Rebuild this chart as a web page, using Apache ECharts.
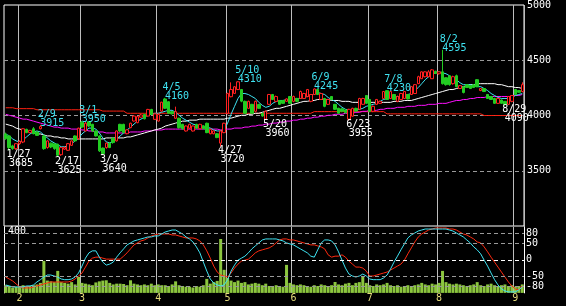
<!DOCTYPE html>
<html><head><meta charset="utf-8">
<script src="https://cdn.jsdelivr.net/npm/echarts@6/dist/echarts.min.js"></script>
<style>html,body{margin:0;padding:0;background:#000;}#c{width:566px;height:306px;}</style>
</head><body><div id="c"></div>
<script>
const dates = ['1/26','1/27','1/28','1/31',
'2/1','2/2','2/3','2/4','2/7','2/8','2/9','2/10','2/14','2/15','2/16','2/17','2/18','2/21','2/22','2/24','2/25','2/28',
'3/1','3/2','3/3','3/4','3/7','3/8','3/9','3/10','3/11','3/14','3/15','3/16','3/17','3/18','3/22','3/23','3/24','3/25','3/28','3/29','3/30','3/31',
'4/1','4/4','4/5','4/6','4/7','4/8','4/11','4/12','4/13','4/14','4/15','4/18','4/19','4/20','4/21','4/22','4/25','4/26','4/27','4/28',
'5/2','5/6','5/9','5/10','5/11','5/12','5/13','5/16','5/17','5/18','5/19','5/20','5/23','5/24','5/25','5/26','5/27','5/30','5/31',
'6/1','6/2','6/3','6/6','6/7','6/8','6/9','6/10','6/13','6/14','6/15','6/16','6/17','6/20','6/21','6/22','6/23','6/24','6/27','6/28','6/29','6/30',
'7/1','7/4','7/5','7/6','7/7','7/8','7/11','7/12','7/13','7/14','7/15','7/19','7/20','7/21','7/22','7/25','7/26','7/27','7/28','7/29',
'8/1','8/2','8/3','8/4','8/5','8/8','8/9','8/10','8/12','8/15','8/16','8/17','8/18','8/19','8/22','8/23','8/24','8/25','8/26','8/29','8/30','8/31',
'9/1','9/2','9/5'];

const openP = [3833,3815,3725,3700,3745,3760,3875,3845,3880,3850,
3880,3815,3710,3750,3745,3740,3645,3695,3685,3730,
3815,3790,3940,3860,3945,3920,3860,3815,3705,3710,
3750,3795,3770,3920,3920,3835,3890,3950,3935,3985,
4010,3995,4055,3965,3950,4040,4150,4125,4035,3975,
3975,3920,3860,3885,3860,3920,3880,3905,3930,3835,
3835,3835,3750,3845,4020,4170,4200,4235,4235,4128,
4065,4101,4038,4100,4020,3967,4101,4190,4128,4136,
4136,4128,4172,4128,4154,4154,4154,4172,4128,4190,
4235,4145,4154,4101,4172,4101,4065,4060,4050,3967,
3994,4065,4056,4101,4181,4145,4038,4101,4110,4154,
4225,4154,4190,4128,4145,4154,4190,4190,4199,4288,
4333,4351,4351,4333,4400,4378,4395,4342,4360,4288,
4360,4244,4261,4279,4270,4279,4324,4226,4244,4190,
4172,4154,4110,4140,4128,4101,4128,4235,4226,4217];
const closeP = [3790,3710,3700,3745,3765,3880,3845,3865,3835,3820,
3900,3700,3770,3715,3700,3640,3710,3710,3745,3770,
3770,3885,3895,3930,3905,3860,3815,3680,3655,3750,
3710,3755,3860,3860,3845,3870,3930,3995,3990,4005,
3970,4055,4010,4015,4010,4120,4065,4020,4015,4035,
3890,3880,3905,3920,3905,3885,3920,3880,3845,3875,
3860,3800,3860,3930,4200,4235,4260,4305,4130,4020,
4128,4020,4128,4065,3995,4038,4190,4145,4172,4101,
4110,4150,4110,4172,4128,4217,4199,4235,4190,4240,
4190,4199,4083,4145,4145,4056,4020,4038,4025,4056,
4065,4040,4154,4154,4110,4038,4083,4145,4128,4217,
4145,4217,4145,4172,4199,4217,4150,4261,4279,4351,
4395,4395,4395,4413,4380,4395,4288,4279,4279,4351,
4261,4270,4208,4253,4244,4253,4261,4244,4217,4154,
4145,4110,4154,4110,4101,4172,4181,4190,4210,4279];
const lowP = [3780,3685,3690,3690,3735,3750,3840,3840,3830,3815,
3875,3690,3700,3705,3690,3625,3635,3690,3680,3725,
3765,3780,3885,3855,3895,3850,3810,3670,3640,3700,
3705,3745,3765,3850,3840,3830,3885,3945,3930,3980,
3965,3990,4005,3960,3945,4030,4060,4015,4010,3970,
3880,3870,3855,3880,3855,3880,3875,3875,3840,3830,
3830,3795,3720,3840,4010,4165,4195,4230,4120,4015,
4060,4015,4030,4060,3990,3960,4095,4140,4120,4095,
4105,4125,4105,4120,4120,4150,4150,4165,4120,4185,
4185,4140,4075,4095,4140,4050,4015,4030,4020,3955,
3990,4035,4050,4095,4105,4030,4030,4095,4105,4150,
4140,4150,4140,4120,4140,4150,4145,4185,4195,4285,
4330,4345,4345,4330,4375,4370,4280,4270,4270,4280,
4255,4240,4200,4250,4240,4250,4255,4220,4212,4150,
4140,4105,4105,4105,4090,4095,4120,4185,4205,4210];
const highP = [3845,3825,3735,3750,3775,3885,3880,3870,3895,3860,
3915,3825,3775,3755,3750,3745,3715,3720,3750,3775,
3820,3890,3950,3945,3948,3925,3865,3820,3710,3755,
3755,3800,3865,3925,3925,3875,3935,4000,3995,4015,
4015,4060,4060,4020,4020,4125,4160,4130,4040,4080,
3980,3925,3910,3925,3910,3925,3925,3910,3935,3880,
3865,3840,3865,3935,4205,4300,4265,4310,4240,4135,
4135,4105,4135,4105,4025,4045,4195,4195,4180,4140,
4140,4155,4175,4180,4160,4225,4205,4240,4195,4245,
4240,4205,4160,4150,4175,4105,4070,4065,4055,4060,
4070,4070,4160,4160,4185,4150,4090,4150,4135,4222,
4230,4220,4195,4180,4205,4220,4195,4265,4285,4360,
4400,4400,4410,4420,4405,4400,4595,4345,4365,4360,
4370,4275,4265,4285,4275,4285,4330,4248,4248,4195,
4175,4160,4160,4145,4130,4175,4185,4240,4230,4300];

const ma5 = [3833,3815,3788,3770,3761,3779,3806,3833,3851,3860,
3851,3824,3797,3770,3752,3735,3717,3717,3726,3744,
3770,3797,3833,3860,3886,3886,3877,3842,3797,3761,
3752,3761,3788,3815,3842,3869,3895,3922,3949,3967,
3985,4002,4011,4020,4020,4029,4038,4047,4047,4029,
4002,3976,3958,3940,3922,3913,3904,3904,3895,3886,
3869,3860,3860,3869,3931,4011,4083,4154,4199,4199,
4190,4172,4154,4119,4092,4074,4083,4110,4128,4136,
4136,4145,4145,4145,4154,4154,4163,4172,4181,4199,
4208,4199,4190,4163,4145,4128,4101,4074,4056,4047,
4038,4047,4056,4065,4083,4092,4101,4110,4128,4145,
4154,4163,4172,4172,4172,4181,4190,4199,4226,4253,
4288,4324,4351,4369,4386,4395,4386,4378,4360,4333,
4324,4297,4279,4279,4279,4270,4261,4261,4244,4226,
4199,4181,4163,4154,4154,4154,4163,4181,4190,4199];
const ma25 = [3922,3913,3904,3886,3877,3869,3860,3851,3842,3833,
3833,3824,3815,3815,3806,3806,3797,3797,3788,3788,
3788,3788,3788,3788,3788,3788,3788,3788,3788,3797,
3797,3797,3797,3797,3797,3806,3806,3815,3824,3833,
3842,3851,3860,3869,3877,3886,3904,3913,3922,3931,
3940,3949,3949,3958,3958,3958,3967,3967,3967,3967,
3967,3967,3967,3967,3976,3976,3985,3994,4002,4002,
4011,4011,4020,4020,4029,4038,4047,4056,4065,4065,
4074,4083,4092,4101,4110,4119,4128,4128,4136,4136,
4145,4145,4145,4145,4136,4136,4136,4128,4128,4128,
4119,4119,4119,4119,4119,4119,4119,4119,4119,4119,
4119,4119,4128,4128,4128,4136,4136,4136,4145,4154,
4163,4172,4181,4190,4199,4208,4217,4226,4235,4235,
4244,4253,4261,4270,4279,4279,4288,4288,4288,4288,
4288,4288,4279,4279,4270,4261,4261,4253,4253,4244];
const ma75 = [4011,4002,3994,3985,3976,3967,3967,3958,3949,3940,
3931,3922,3913,3904,3895,3895,3886,3886,3886,3877,
3877,3877,3869,3869,3860,3860,3851,3851,3851,3842,
3842,3842,3842,3842,3842,3842,3851,3851,3851,3851,
3860,3860,3860,3869,3869,3869,3877,3877,3877,3877,
3877,3877,3877,3877,3877,3877,3877,3877,3877,3877,
3877,3877,3869,3869,3877,3877,3886,3886,3886,3895,
3895,3904,3904,3913,3913,3922,3922,3931,3931,3940,
3940,3949,3949,3958,3958,3967,3967,3976,3976,3985,
3985,3994,3994,4002,4002,4011,4011,4011,4020,4020,
4020,4029,4029,4038,4038,4047,4047,4047,4056,4056,
4065,4065,4065,4074,4074,4074,4083,4083,4083,4092,
4092,4092,4101,4101,4101,4110,4110,4110,4119,4128,
4136,4136,4145,4145,4154,4154,4163,4163,4163,4172,
4172,4172,4172,4172,4172,4172,4172,4181,4181,4190];
const ma200 = [4070,4070,4070,4062,4062,4062,4062,4062,4062,4052,
4052,4052,4052,4052,4052,4052,4052,4052,4052,4052,
4052,4052,4052,4052,4052,4052,4052,4052,4040,4040,
4040,4040,4040,4040,4040,4020,4020,4020,4020,4020,
4020,4020,4020,4020,4020,4020,4020,4020,4020,4020,
4020,4020,4020,4020,4020,4020,4020,4020,4020,4020,
4020,4020,4020,4020,4020,4020,4020,4020,4020,4020,
4020,4020,4020,4020,4020,4020,4020,4020,4020,4020,
4020,4020,4020,4020,4020,4020,4020,4020,4020,4035,
4035,4035,4035,4035,4035,4035,4035,4035,4035,4035,
4035,4035,4035,4035,4035,4035,4035,4035,4035,4035,
4015,4015,4015,4015,4015,4015,4015,4015,4015,4015,
4015,4015,4015,4015,4015,4015,4015,4015,4015,4015,
4015,4015,4015,4015,4015,4015,4015,4015,4000,4000,
4000,4000,4000,4000,4000,4000,4000,4000,4000,4000];

const volume = [50,45,35,40,45,50,40,45,50,55,
65,208,80,75,70,143,70,65,60,70,
55,104,65,60,55,50,68,75,80,82,
65,55,60,60,58,50,82,60,55,50,
55,50,60,50,55,50,50,45,55,75,
50,45,40,40,35,45,40,50,91,60,
70,78,350,150,97,80,70,80,65,70,
55,60,65,60,50,60,45,40,50,45,
40,182,65,55,50,55,50,45,40,50,
45,55,50,45,50,71,55,50,60,65,
50,65,70,110,65,50,45,55,50,55,
65,50,45,50,40,45,50,45,50,55,
65,55,50,60,55,65,143,70,60,55,
60,55,50,45,50,55,70,50,45,55,
60,50,45,50,55,45,50,40,45,55];

const oscFast = [-76,-79,-82,-82,-82,-82,-79,-79,-76,-67,
-60,-52,-46,-46,-49,-52,-58,-60,-60,-58,
-52,-40,-19,5,21,27,27,8,-7,-16,
-13,-7,8,21,33,45,51,57,60,63,
66,69,69,72,72,78,84,87,90,90,
84,78,69,63,54,39,21,-7,-34,-58,
-70,-76,-79,-76,-60,-34,-16,-1,5,11,
21,33,42,51,60,63,63,63,63,60,
57,51,48,45,39,33,27,21,11,8,
30,51,60,60,57,45,24,-1,-25,-43,
-49,-52,-49,-43,-49,-58,-60,-60,-60,-55,
-46,-28,-7,11,30,48,66,75,81,87,
90,93,93,93,93,93,93,93,90,87,
81,75,69,60,51,39,30,18,-1,-19,
-40,-60,-76,-88,-94,-97,-97,-97,-91,-82];
const oscSlow = [-52,-58,-64,-73,-82,-85,-85,-85,-82,-79,
-76,-73,-70,-67,-67,-67,-67,-67,-67,-64,
-58,-49,-40,-22,-4,5,8,8,5,2,
2,2,2,2,11,21,33,45,51,57,
60,66,72,75,78,78,78,78,75,75,
72,69,66,66,66,63,57,45,27,5,
-19,-37,-46,-49,-52,-40,-25,-13,-4,-1,
2,11,21,27,30,33,36,42,51,60,
63,63,60,60,57,54,51,48,45,45,
42,39,33,15,8,11,11,15,8,-4,
-13,-22,-22,-25,-34,-49,-49,-46,-43,-40,
-37,-31,-25,-19,-13,-1,18,36,54,69,
78,84,90,93,96,96,96,96,93,93,
90,84,78,75,69,63,54,51,39,24,
8,-7,-22,-37,-52,-67,-79,-88,-91,-79];

const priceTicks = [3500, 4000, 4500, 5000];
const oscLevels = [80, 50, 0, -50, -80];
const volTicks = [400];

const highDates = ['2/9','3/1','4/5','5/10','6/9','7/8','8/2'];
const highValues = [3915,3950,4160,4310,4245,4230,4595];
const lowDates = ['1/27','2/17','3/9','4/27','5/20','6/23','8/29'];
const lowValues = [3685,3625,3640,3720,3960,3955,4090];

const FONT = 'DejaVu Sans Mono';
const CYAN = '#3fe3f2';
const monthStart = (i) => i > 0 && dates[i].split('/')[0] !== dates[i - 1].split('/')[0];

function mk(d, v, isHigh) {
  const col = isHigh ? CYAN : '#ffffff';
  return {
    coord: [d, v],
    label: {
      show: true,
      formatter: '{d|' + d + '}\n{v|' + v + '}',
      position: [-2.2, isHigh ? 3.4 : 0.2],
      align: 'left',
      verticalAlign: isHigh ? 'bottom' : 'top',
      color: col, fontFamily: FONT, fontSize: 10, lineHeight: 9,
      rich: {
        d: {color: col, fontFamily: FONT, fontSize: 10, lineHeight: 9},
        v: {color: col, fontFamily: FONT, fontSize: 10, lineHeight: 9, padding: [0, 0, 0, 2.5]}
      }
    }
  };
}
const marks = highDates.map((d, i) => mk(d, highValues[i], true))
  .concat(lowDates.map((d, i) => mk(d, lowValues[i], false)));

const candles = dates.map((d, i) => [openP[i], closeP[i], lowP[i], highP[i]]);

const vLine = {show: true, interval: (i) => monthStart(i), lineStyle: {color: '#bdbdbd', width: 1}};

const chart = echarts.init(document.getElementById('c'), null, {renderer: 'canvas'});
chart.setOption({
  backgroundColor: '#000',
  animation: false,
  grid: [
    {left: 4, right: 42, top: 2, height: 224, show: true, borderColor: '#ffffff', borderWidth: 1, backgroundColor: 'transparent'},
    {left: 4, right: 42, top: 226.7, height: 66.2}
  ],
  xAxis: [
    {type: 'category', gridIndex: 0, data: dates, boundaryGap: true,
     axisLine: {show: false}, axisTick: {show: false}, axisLabel: {show: false}, splitLine: vLine},
    {type: 'category', gridIndex: 1, data: dates, boundaryGap: true,
     axisLine: {show: false}, axisTick: {show: false},
     axisLabel: {show: true, interval: (i) => monthStart(i), formatter: (v) => v.split('/')[0],
                 color: '#e6dc7c', fontFamily: FONT, fontSize: 10, margin: 1},
     splitLine: vLine}
  ],
  yAxis: [
    {type: 'value', gridIndex: 0, position: 'right', min: 3000, max: 5000, interval: 500,
     axisLine: {show: false}, axisTick: {show: false},
     axisLabel: {color: '#fff', fontFamily: FONT, fontSize: 10, margin: 3, padding: [4, 0, 0, 0],
                 formatter: (v) => priceTicks.indexOf(v) >= 0 ? String(v) : ''},
     splitLine: {show: true, showMinLine: false, showMaxLine: false, lineStyle: {color: '#9a9a9a', type: [4, 3], width: 1}}},
    {type: 'value', gridIndex: 1, position: 'right', min: -100, max: 100,
     axisLine: {show: true, lineStyle: {color: '#fff', width: 1}}, axisTick: {show: false},
     axisLabel: {show: false}, splitLine: {show: false}},
    {type: 'value', gridIndex: 1, position: 'left', min: 0, max: 430, interval: 400,
     axisLine: {show: true, lineStyle: {color: '#fff', width: 1}}, axisTick: {show: false},
     axisLabel: {inside: true, color: '#fff', fontFamily: FONT, fontSize: 10, margin: 4,
                 formatter: (v) => volTicks.indexOf(v) >= 0 ? String(v) : ''},
     splitLine: {show: false}}
  ],
  series: [
    {type: 'line', xAxisIndex: 0, yAxisIndex: 0, data: ma200, showSymbol: false, lineStyle: {color: '#ff2010', width: 1}, z: 2},
    {type: 'line', xAxisIndex: 0, yAxisIndex: 0, data: ma75, showSymbol: false, lineStyle: {color: '#ff10ff', width: 1}, z: 2},
    {type: 'line', xAxisIndex: 0, yAxisIndex: 0, data: ma25, showSymbol: false, lineStyle: {color: '#ffffff', width: 1}, z: 2},
    {type: 'line', xAxisIndex: 0, yAxisIndex: 0, data: ma5, showSymbol: false, lineStyle: {color: CYAN, width: 1}, z: 2},
    {type: 'candlestick', xAxisIndex: 0, yAxisIndex: 0, data: candles, barWidth: 3, z: 3,
     itemStyle: {color: '#000000', borderColor: '#ff2020', color0: '#22cc22', borderColor0: '#22cc22', borderWidth: 1},
     markPoint: {symbol: 'circle', symbolSize: 1, silent: true, itemStyle: {color: 'rgba(0,0,0,0)'}, data: marks}},
    {type: 'bar', xAxisIndex: 1, yAxisIndex: 2, data: volume, barWidth: 3, itemStyle: {color: '#8cc63f'}, z: 1},
    {type: 'line', xAxisIndex: 1, yAxisIndex: 1, data: oscSlow, showSymbol: false, lineStyle: {color: '#ff2a10', width: 1}, z: 3},
    {type: 'line', xAxisIndex: 1, yAxisIndex: 1, data: oscFast, showSymbol: false, lineStyle: {color: CYAN, width: 1}, z: 3,
     markLine: {silent: true, symbol: 'none',
       data: oscLevels.map((v) => ({yAxis: v, lineStyle: {color: v === 0 ? '#ffffff' : '#9a9a9a', type: [4, 3], width: 1}})),
       label: {show: true, position: 'end', distance: 2, color: '#fff', fontFamily: FONT, fontSize: 10, formatter: (p) => String(p.value)}}}
  ]
});
</script>
</body></html>
